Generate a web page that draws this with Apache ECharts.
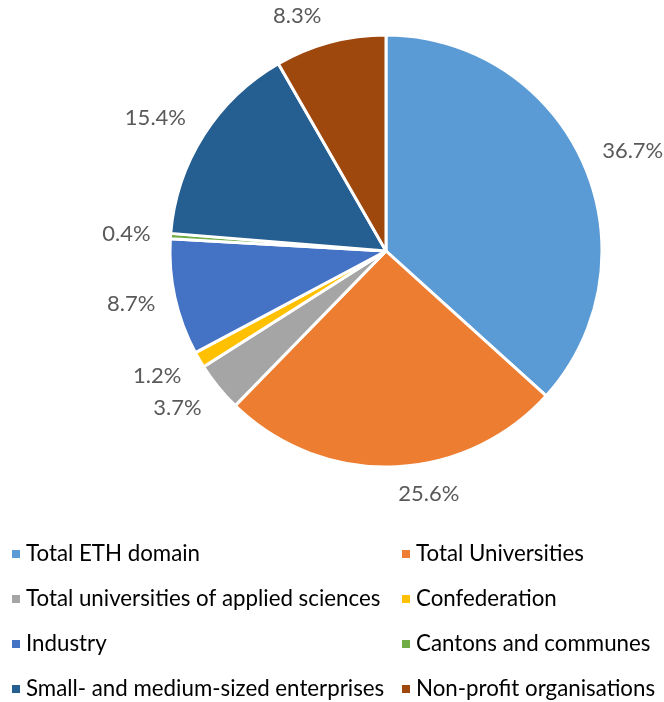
<!DOCTYPE html>
<html><head><meta charset="utf-8">
<script src="https://cdn.jsdelivr.net/npm/echarts@6/dist/echarts.min.js"></script>
<style>html,body{margin:0;padding:0;background:#fff}#c{width:664px;height:702px}</style>
</head><body><div id="c"></div>
<script>
const categories = ["Total ETH domain","Total Universities","Total universities of applied sciences","Confederation","Industry","Cantons and communes","Small- and medium-sized enterprises","Non-profit organisations"];
const values = [36.7, 25.6, 3.7, 1.2, 8.7, 0.4, 15.4, 8.3];
const colors = ["#5B9BD5","#ED7D31","#A5A5A5","#FFC000","#4472C4","#70AD47","#255E91","#9E480E"];
const leftLegend = [categories[0], categories[2], categories[4], categories[6]];
const rightLegend = [categories[1], categories[3], categories[5], categories[7]];
const FONT = "Lato";
const CX = 386, CY = 251;
const chart = echarts.init(document.getElementById('c'), null, {renderer:'canvas'});
const legendBase = {
  orient: 'vertical', top: 543, height: 170, padding: 0,
  itemWidth: 10, itemHeight: 10, itemGap: 23,
  icon: 'rect', selectedMode: false,
  textStyle: {fontFamily: FONT, fontSize: 22.3, color: '#000', lineHeight: 22}
};
chart.setOption({
  animation: false,
  color: colors,
  legend: [
    Object.assign({}, legendBase, {left: 10, data: leftLegend}),
    Object.assign({}, legendBase, {left: 400, data: rightLegend})
  ],
  series: [{
    type: 'pie',
    center: [CX, CY],
    radius: 216,
    startAngle: 90,
    clockwise: true,
    avoidLabelOverlap: false,
    itemStyle: {borderColor: '#fff', borderWidth: 3},
    label: {
      show: true, position: 'outside', distanceToLabelLine: 5,
      formatter: p => p.value.toFixed(1) + '%',
      fontFamily: FONT, fontSize: 22, color: '#595959'
    },
    labelLine: {show: false, length: 15, length2: 0},
    labelLayout: function (p) {
      const r = p.labelRect;
      const lx = r.x + r.width / 2 - CX, ly = r.y + r.height / 2 - CY;
      const d = Math.sqrt(lx * lx + ly * ly) || 1;
      const k = Math.max(-1, Math.min(1, (ly / d) * 1.6));
      return {dy: 12 * k};
    },
    emphasis: {disabled: true},
    data: categories.map((n, i) => ({name: n, value: values[i]}))
  }]
});
</script></body></html>
